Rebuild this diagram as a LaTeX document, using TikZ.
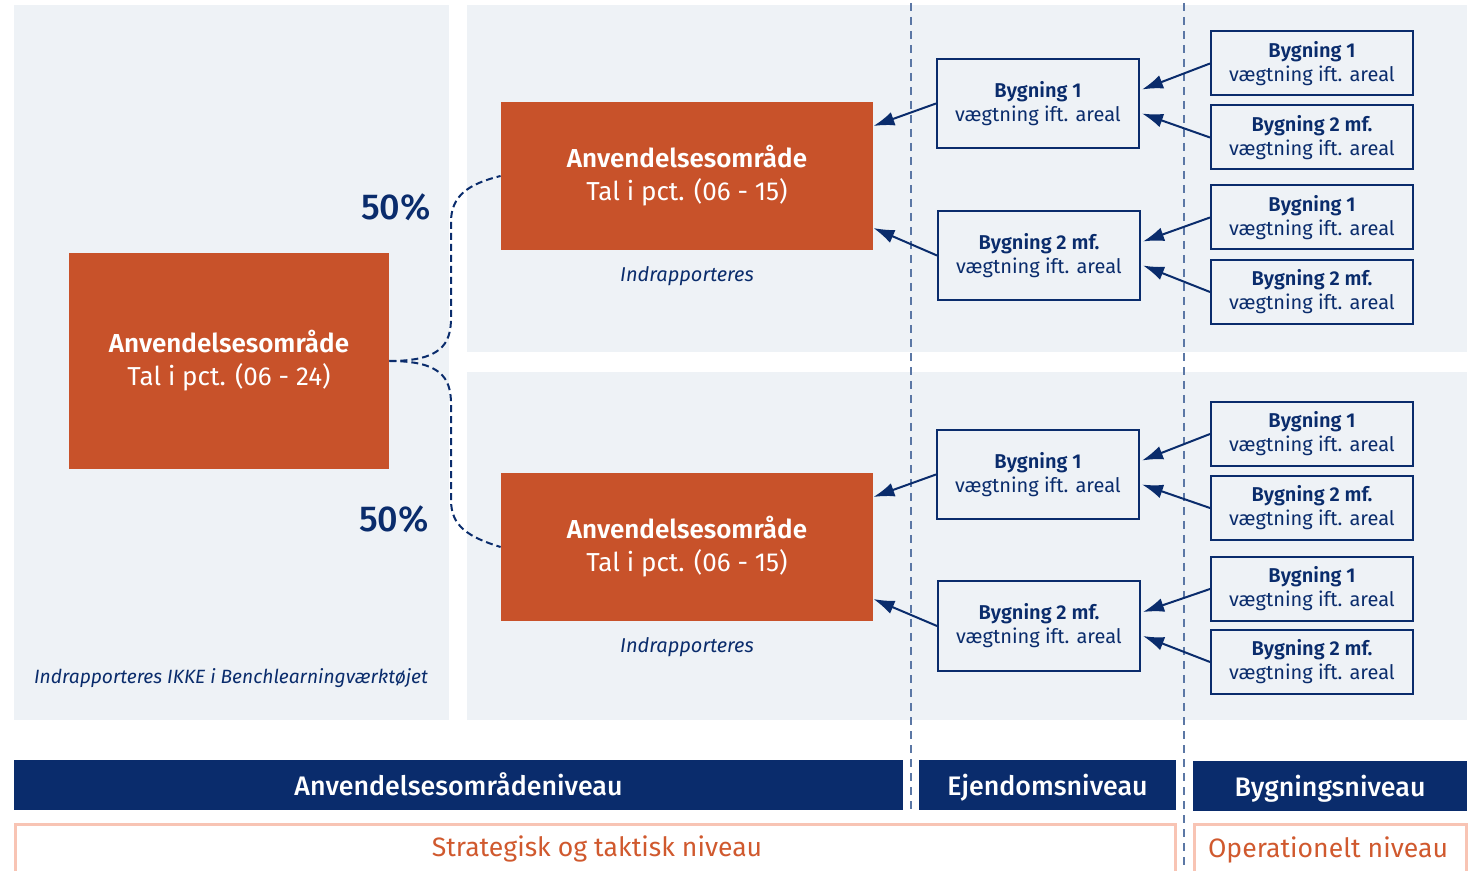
\documentclass[tikz,border=0pt]{standalone}
\usepackage{fontspec}
\setmainfont{Fira Sans}[BoldFont={Fira Sans SemiBold}]
\newfontfamily\mediumfont{Fira Sans Medium}
\usetikzlibrary{arrows.meta,positioning}
\definecolor{navy}{HTML}{0A2C6C}
\definecolor{rust}{HTML}{C8522A}
\definecolor{panelbg}{HTML}{EEF2F6}
\definecolor{pinkline}{HTML}{F8C4B4}
\definecolor{rusttext}{HTML}{D0592E}
\definecolor{dashgray}{HTML}{5B77A5}

\begin{document}
\begin{tikzpicture}
	[
		x=0.5pt, y=-0.5pt,
		panel/.style={fill=panelbg},
		areanode/.style={rectangle, fill=rust, text=white, align=center, font=\fontsize{13}{16.5}\selectfont},
		bignode/.style={areanode, minimum width=160pt, minimum height=108pt},
		topnode/.style={areanode, minimum width=186pt, minimum height=74pt},
		estatenode/.style={rectangle, draw=navy, line width=1pt, fill=panelbg, text=navy, align=center, minimum width=101pt, minimum height=44.5pt, font=\fontsize{10}{12}\selectfont},
		buildnode/.style={estatenode, minimum height=32pt},
		levelbar/.style={rectangle, fill=navy, text=white, minimum height=25pt, inner ysep=0pt, text height=13.5pt, text depth=3pt, font=\fontsize{13.4}{15}\mediumfont},
		pinkbox/.style={draw=pinkline, line width=1.5pt},
		arrowline/.style={draw=navy, line width=1pt, -{Latex[length=10.5pt,width=7pt]}},
		note/.style={text=navy, font=\fontsize{10}{12}\selectfont\itshape},
		pct/.style={text=navy, font=\fontsize{18}{20}\mediumfont},
		sepline/.style={draw=dashgray, line width=0.75pt, dash pattern=on 4pt off 3pt},
		linkline/.style={draw=navy, line width=1pt, dash pattern=on 3.5pt off 2pt},
	]
	\useasboundingbox (0,0) rectangle (1468,871);

	% backgrounds
	\fill[panel] (14,5) rectangle (449,720);
	\fill[panel] (467,5) rectangle (1467,352);
	\fill[panel] (467,372) rectangle (1467,720);

	% level separators
	\draw[sepline] (911,3) -- (911,810);
	\draw[sepline] (1184,3) -- (1184,871);

	% area boxes
	\node [bignode] (total) at (229,361) {\textbf{Anvendelsesområde}\\Tal i pct. (06 - 24)};
	\node [topnode] (areaA) at (687,176) {\textbf{Anvendelsesområde}\\Tal i pct. (06 - 15)};
	\node [topnode] (areaB) at (687,547) {\textbf{Anvendelsesområde}\\Tal i pct. (06 - 15)};
	\node [note] (repA) [below=4.5pt of areaA] {Indrapporteres};
	\node [note] (repB) [below=4.5pt of areaB] {Indrapporteres};
	\node [note, font=\fontsize{9.6}{12}\selectfont\itshape] (norep) at (231,678) {Indrapporteres IKKE i Benchlearningværktøjet};
	\node [pct] (pctA) at (396,207) {50\%};
	\node [pct] (pctB) at (394,519) {50\%};

	\draw[linkline] (total.east) .. controls (440,361) and (451,345) .. (451,318) -- (451,222) .. controls (451,196) and (468,184) .. (areaA.west);
	\draw[linkline] (total.east) .. controls (440,361) and (451,377) .. (451,404) -- (451,500) .. controls (451,526) and (468,537) .. (areaB.west);

	% estate level
	\node [estatenode] (estA1) at (1038,103.5) {\textbf{Bygning 1}\\vægtning ift. areal};
	\node [estatenode] (estA2) at (1039,255.5) {\textbf{Bygning 2 mf.}\\vægtning ift. areal};
	\node [estatenode] (estB1) at (1038,474.5) {\textbf{Bygning 1}\\vægtning ift. areal};
	\node [estatenode] (estB2) at (1039,626) {\textbf{Bygning 2 mf.}\\vægtning ift. areal};

	% building level
	\node [buildnode] (bA1) at (1312,63.5) {\textbf{Bygning 1}\\vægtning ift. areal};
	\node [buildnode] (bA2) at (1312,137.5) {\textbf{Bygning 2 mf.}\\vægtning ift. areal};
	\node [buildnode] (bA3) at (1312,217.5) {\textbf{Bygning 1}\\vægtning ift. areal};
	\node [buildnode] (bA4) at (1312,292) {\textbf{Bygning 2 mf.}\\vægtning ift. areal};
	\node [buildnode] (bB1) at (1312,434) {\textbf{Bygning 1}\\vægtning ift. areal};
	\node [buildnode] (bB2) at (1312,508) {\textbf{Bygning 2 mf.}\\vægtning ift. areal};
	\node [buildnode] (bB3) at (1312,589) {\textbf{Bygning 1}\\vægtning ift. areal};
	\node [buildnode] (bB4) at (1312,662) {\textbf{Bygning 2 mf.}\\vægtning ift. areal};

	\draw[arrowline] (estA1.west) -- ([yshift=25pt]areaA.east);
	\draw[arrowline] (estA2.west) -- ([yshift=-26pt]areaA.east);
	\draw[arrowline] (estB1.west) -- ([yshift=25pt]areaB.east);
	\draw[arrowline] (estB2.west) -- ([yshift=-26pt]areaB.east);

	\draw[arrowline] (bA1.west) -- ([xshift=1pt,yshift=7pt]estA1.east);
	\draw[arrowline] (bA2.west) -- ([xshift=1pt,yshift=-5pt]estA1.east);
	\draw[arrowline] (bA3.west) -- ([xshift=1pt,yshift=7pt]estA2.east);
	\draw[arrowline] (bA4.west) -- ([xshift=1pt,yshift=-5pt]estA2.east);
	\draw[arrowline] (bB1.west) -- ([xshift=1pt,yshift=7pt]estB1.east);
	\draw[arrowline] (bB2.west) -- ([xshift=1pt,yshift=-5pt]estB1.east);
	\draw[arrowline] (bB3.west) -- ([xshift=1pt,yshift=7pt]estB2.east);
	\draw[arrowline] (bB4.west) -- ([xshift=1pt,yshift=-5pt]estB2.east);

	% level bars
	\node [levelbar, minimum width=444.5pt] (lvlArea) at (458.5,784.5) {Anvendelsesområdeniveau};
	\node [levelbar, minimum width=128.5pt] (lvlEstate) at (1047.5,784.5) {Ejendomsniveau};
	\node [levelbar, minimum width=137pt] (lvlBuild) at (1330,785.5) {Bygningsniveau};

	\draw[pinkbox] (15,874) -- (15,824) -- (1175,824) -- (1175,874);
	\draw[pinkbox] (1194,874) -- (1194,824) -- (1466,824) -- (1466,874);
	\node [text=rusttext, font=\fontsize{13.3}{15}\selectfont] (strat) at (597,849) {Strategisk og taktisk niveau};
	\node [text=rusttext, font=\fontsize{13.3}{15}\selectfont] (oper) at (1328,850) {Operationelt niveau};
\end{tikzpicture}
\end{document}
